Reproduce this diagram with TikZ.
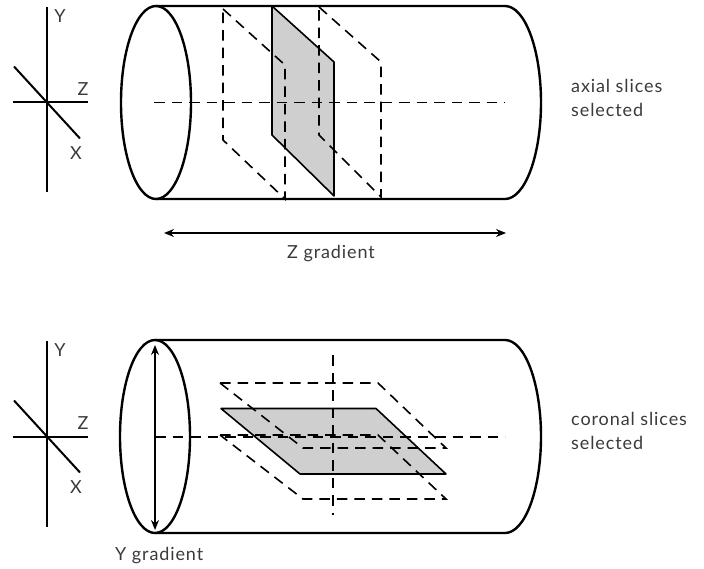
\documentclass[tikz,border=0pt]{standalone}
\usepackage{fontspec}
\usepackage{xcolor}
\setmainfont{Lato}[LetterSpace=5]
\usetikzlibrary{arrows.meta}
\definecolor{slicegrey}{HTML}{CFCFCF}
\definecolor{labelgrey}{HTML}{3A3A3A}
\tikzset{
  tube/.style={line width=2.4pt},
  axisline/.style={line width=2pt},
  slicesolid/.style={draw=black, fill=slicegrey, line width=1.6pt, line join=round},
  slicedash/.style={line width=1.6pt, dash pattern=on 10.5pt off 7pt},
  gradarrow/.style={line width=1.4pt, {Stealth[length=10pt,width=8pt]}-{Stealth[length=10pt,width=8pt]}},
  lbl/.style={text=labelgrey, font=\fontsize{18}{24}\selectfont, inner sep=0pt, align=left}
}

\begin{document}
\begin{tikzpicture}[x=1pt,y=-1pt]
    \useasboundingbox (0,0) rectangle (704,569);
    % both cylinders with their axes
    \foreach \cy/\cx/\nm in {102.5/156/a, 436.5/155/c} {
      \draw[axisline] (46.5,\cy-95.5) -- (46.5,\cy+90);
      \draw[axisline] (13,\cy) -- (88,\cy);
      \draw[axisline] (14,\cy-36) -- (80,\cy+36);
      \node[lbl] (y\nm) at (60,\cy-86) {Y};
      \node[lbl] (z\nm) at (83,\cy-13) {Z};
      \node[lbl] (x\nm) at (76,\cy+51) {X};
      \draw[tube] (\cx,\cy) ellipse [x radius=35pt, y radius=96.5pt];
      \draw[tube] (\cx,\cy-96.5) -- (505,\cy-96.5) arc [start angle=90, end angle=-90, x radius=36pt, y radius=96.5pt] -- (\cx,\cy+96.5);
    }
    % axial slices
    \draw[slicesolid] (272,6) -- (334,62) -- (334,196) -- (272,135) -- cycle;
    \draw[slicedash] (223,9) -- (285,65) -- (285,199) -- (223,140) -- cycle;
    \draw[slicedash] (319,7) -- (381,62) -- (381,197) -- (319,135) -- cycle;
    \draw[slicedash] (154,102.5) -- (505,102.5);
    \coordinate (zl) at (164,233);
    \coordinate (zr) at (506,233);
    \draw[gradarrow] (zl) -- (zr);
    \node[lbl] (zgrad) at (331,254) {Z gradient};
    \node[lbl, anchor=west] (axial) at (571,98) {axial slices\\selected};
    % coronal slices
    \draw[slicesolid] (221,408.5) -- (376,408.5) -- (446,474) -- (300,474) -- cycle;
    \draw[slicedash] (220,383) -- (378,383) -- (446,448) -- (303,448) -- cycle;
    \draw[slicedash] (220,435) -- (378,435) -- (446,499) -- (303,499) -- cycle;
    \draw[slicedash] (333,355) -- (333,515);
    \draw[slicedash] (155,437) -- (505,437);
    \coordinate (yt) at (155,345);
    \coordinate (yb) at (155,530);
    \draw[gradarrow] (yt) -- (yb);
    \node[lbl, anchor=west] (ygrad) at (115,556) {Y gradient};
    \node[lbl, anchor=west] (coronal) at (571,431) {coronal slices\\selected};
  \end{tikzpicture}
\end{document}
